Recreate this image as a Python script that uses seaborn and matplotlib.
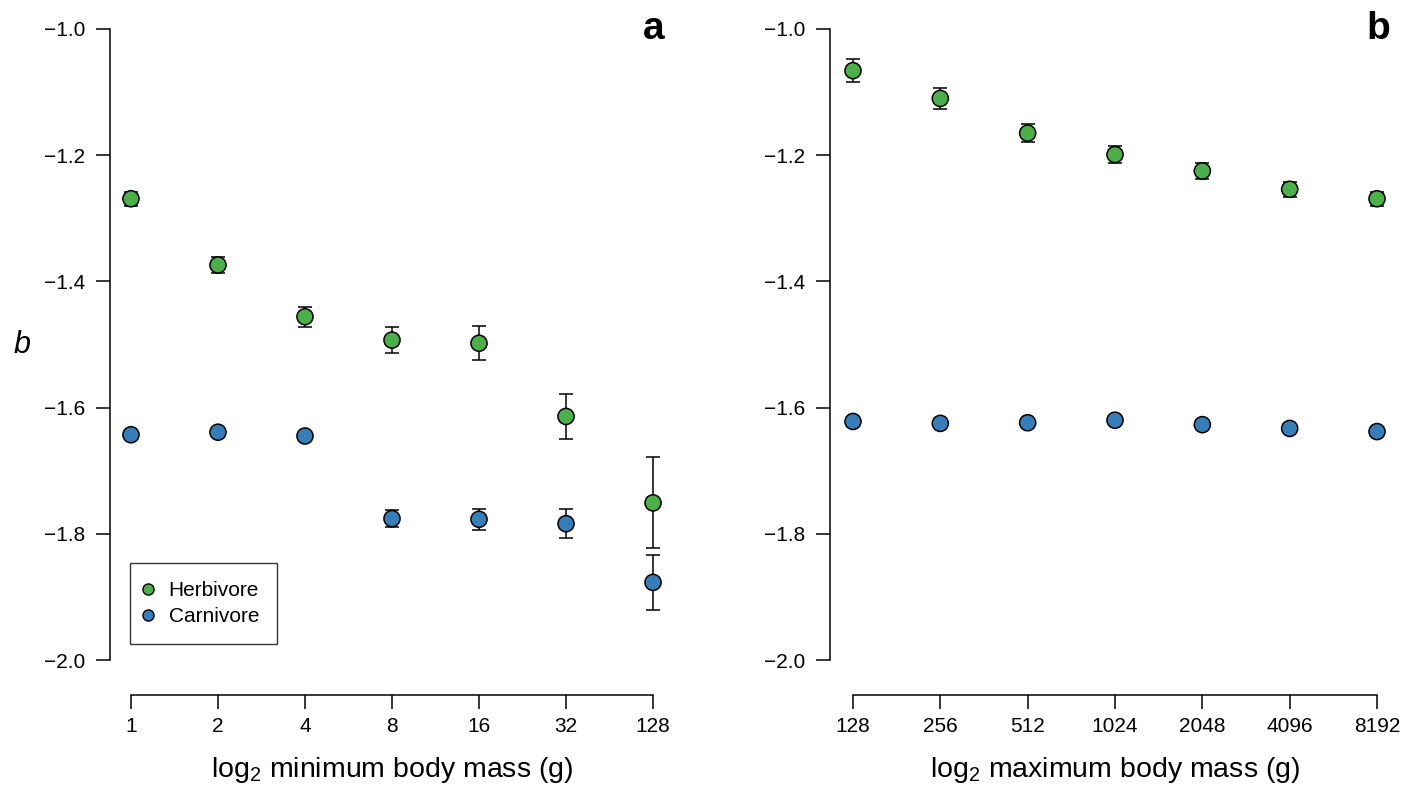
import numpy as np
import pandas as pd
import matplotlib
matplotlib.use("Agg")
import matplotlib.pyplot as plt
from matplotlib.lines import Line2D
import seaborn as sns

# ---- data ----
min_mass_labels = ["1", "2", "4", "8", "16", "32", "128"]
herb_a = [-1.269, -1.374, -1.456, -1.493, -1.498, -1.614, -1.751]
herb_a_err = [0.011, 0.012, 0.016, 0.021, 0.027, 0.035, 0.072]
carn_a = [-1.643, -1.639, -1.645, -1.776, -1.777, -1.784, -1.877]
carn_a_err = [0.005, 0.005, 0.006, 0.013, 0.017, 0.023, 0.044]

max_mass_labels = ["128", "256", "512", "1024", "2048", "4096", "8192"]
herb_b = [-1.066, -1.110, -1.165, -1.199, -1.225, -1.254, -1.269]
herb_b_err = [0.018, 0.016, 0.0145, 0.013, 0.012, 0.012, 0.011]
carn_b = [-1.622, -1.625, -1.624, -1.620, -1.627, -1.633, -1.638]
carn_b_err = [0.004, 0.004, 0.004, 0.004, 0.004, 0.004, 0.004]

yticks = [-1.0, -1.2, -1.4, -1.6, -1.8, -2.0]
green = "#4DAF4A"
blue = "#377EB8"

sns.set_theme(style="white")
plt.rcParams["font.family"] = ["Liberation Sans", "DejaVu Sans"]
plt.rcParams["mathtext.fontset"] = "custom"
plt.rcParams["mathtext.rm"] = "Liberation Sans"
plt.rcParams["mathtext.default"] = "regular"
plt.rcParams["axes.unicode_minus"] = True
plt.rcParams["text.color"] = "black"
plt.rcParams["axes.labelcolor"] = "black"

W, H = 1407, 789
fig = plt.figure(figsize=(W / 100, H / 100), dpi=100)


def make_axes(x0, x1):
    return fig.add_axes([x0 / W, (H - 660) / H, (x1 - x0) / W, 631 / H])


def panel(ax, labels, herb, herb_err, carn, carn_err, xlabel, letter, xlim,
          letter_x, legend):
    pos = np.arange(1, len(labels) + 1)
    df = pd.DataFrame({
        "x": np.concatenate([pos, pos]),
        "b": herb + carn,
        "group": ["Herbivore"] * len(pos) + ["Carnivore"] * len(pos),
    })
    for vals, errs in ((herb, herb_err), (carn, carn_err)):
        ax.errorbar(pos, vals, yerr=errs, fmt="none", ecolor="black",
                    elinewidth=1.1, capsize=5, capthick=1.1, zorder=2)
    sns.scatterplot(data=df, x="x", y="b", hue="group",
                    palette={"Herbivore": green, "Carnivore": blue},
                    s=135, edgecolor="black", linewidth=1.1, zorder=3,
                    legend=False, ax=ax)
    ax.set_xlim(*xlim)
    ax.set_ylim(-2.0, -1.0)
    for s in ["top", "right"]:
        ax.spines[s].set_visible(False)
    ax.spines["bottom"].set_position(("outward", 25))
    ax.spines["bottom"].set_bounds(1, len(labels))
    ax.spines["left"].set_bounds(-2.0, -1.0)
    for s in ["bottom", "left"]:
        ax.spines[s].set_color("black")
        ax.spines[s].set_linewidth(1.1)
    ax.set_xticks(pos)
    ax.set_xticklabels(labels)
    ax.set_yticks(yticks)
    ax.set_yticklabels([f"{v:.1f}".replace("-", "\u2212") for v in yticks])
    ax.tick_params(axis="both", direction="out", length=10, width=1.1,
                   color="black", labelsize=15, labelcolor="black",
                   bottom=True, left=True)
    ax.tick_params(axis="x", pad=6)
    ax.tick_params(axis="y", pad=8)
    ax.set_xlabel(xlabel, fontsize=20.5, labelpad=14, color="black")
    ax.set_ylabel("")
    ax.text(letter_x, 1.0, letter, transform=ax.transAxes, ha="right",
            va="center", fontsize=28, fontweight="bold", color="black")
    if legend:
        handles = [
            Line2D([], [], marker="o", linestyle="none", markerfacecolor=green,
                   markeredgecolor="black", markersize=8, label="Herbivore"),
            Line2D([], [], marker="o", linestyle="none", markerfacecolor=blue,
                   markeredgecolor="black", markersize=8, label="Carnivore"),
        ]
        leg = ax.legend(handles=handles, loc="lower left",
                        bbox_to_anchor=(20 / 564, 16 / 631), fontsize=15,
                        frameon=True, fancybox=False, edgecolor="black",
                        handletextpad=1.0, borderpad=0.85, handlelength=0,
                        labelspacing=0.35, borderaxespad=0)
        leg.get_frame().set_linewidth(1.0)
        for t in leg.get_texts():
            t.set_color("black")


ax_a = make_axes(110, 674)
panel(ax_a, min_mass_labels, herb_a, herb_a_err, carn_a, carn_a_err,
      "log$_2$ minimum body mass (g)", "a", (0.759, 7.241),
      (665 - 110) / 564, True)
ax_a.text(-88 / 564, (660 - 345) / 631, "b", transform=ax_a.transAxes,
          fontsize=22, fontstyle="italic", ha="center", va="center",
          color="black")

ax_b = make_axes(830, 1400)
panel(ax_b, max_mass_labels, herb_b, herb_b_err, carn_b, carn_b_err,
      "log$_2$ maximum body mass (g)", "b", (0.737, 7.263),
      (1390 - 830) / 570, False)

fig.savefig("out.png", dpi=100)
